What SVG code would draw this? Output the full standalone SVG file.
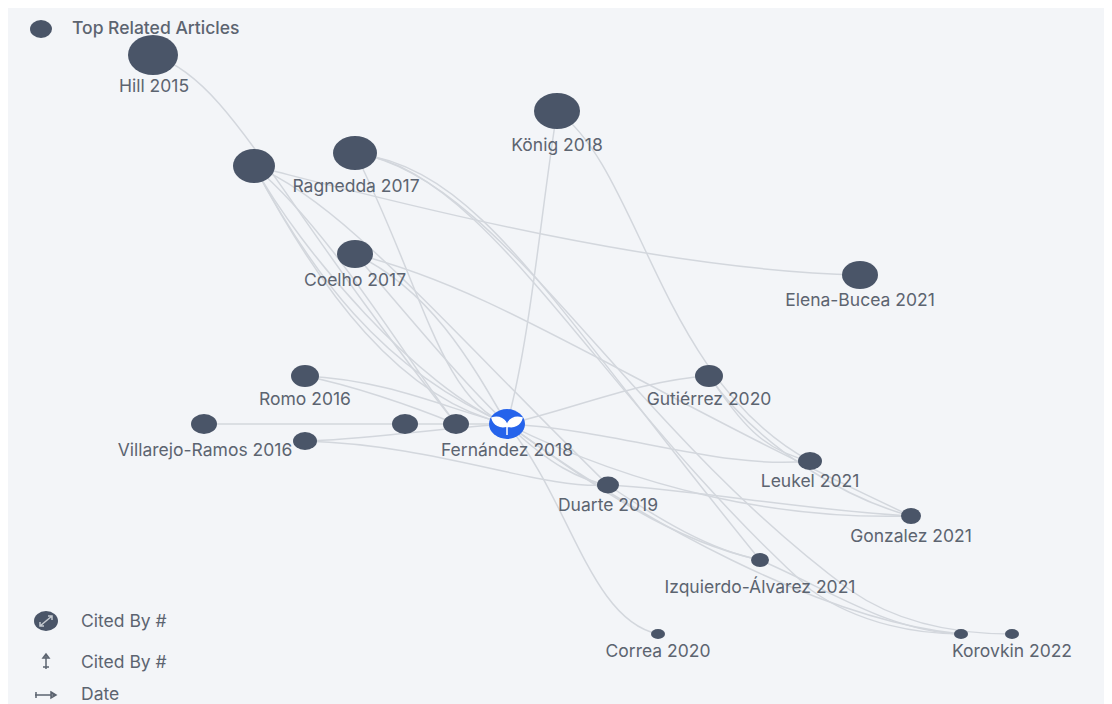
<svg xmlns="http://www.w3.org/2000/svg" width="1112" height="704" viewBox="0 0 1112 704">
<style>
.n{fill:#4a5568}
.l{font-family:"Inter","Liberation Sans",sans-serif;font-size:17.5px;fill:#5c6470;text-anchor:middle}
.k{font-family:"Inter","Liberation Sans",sans-serif;font-size:17.5px;fill:#5c6470}
#edges path{fill:none;stroke:#d3d7dd;stroke-width:1.5}
.w{fill:none;stroke:#fff;stroke-width:2}
.g{fill:none;stroke:#5c6470;stroke-width:1.5}
</style>
<rect width="1112" height="704" fill="#fff"/>
<rect x="8" y="8" width="1096" height="696" fill="#f3f5f8"/>
<g id="edges">
<path d="M153 55C230 80 270 190 456 424"/>
<path d="M254 166C310 270 380 370 507 424"/>
<path d="M254 166C320 290 400 400 507 424"/>
<path d="M254 166C300 250 420 390 507 424"/>
<path d="M254 166C340 200 440 320 608 485"/>
<path d="M254 166C350 190 640 270 860 275"/>
<path d="M254 166C330 230 400 350 456 424"/>
<path d="M355 153C420 280 440 400 507 424"/>
<path d="M355 153C480 170 540 290 760 560"/>
<path d="M355 153C490 170 600 400 811 590C860 625 920 634 961 634"/>
<path d="M355 153C500 175 620 420 850 590C900 625 960 634 1012 634"/>
<path d="M557 111C540 220 530 340 507 424"/>
<path d="M557 111C640 170 660 380 810 461"/>
<path d="M355 254C430 290 470 360 507 424"/>
<path d="M355 254C420 330 470 390 507 424"/>
<path d="M355 254C500 290 620 380 911 516"/>
<path d="M305 376C390 380 450 410 507 424"/>
<path d="M305 376C350 385 410 405 456 424"/>
<path d="M204 424H507"/>
<path d="M305 441C360 440 420 430 507 424"/>
<path d="M305 441C440 445 540 490 608 485"/>
<path d="M507 424C570 410 640 380 709 376"/>
<path d="M507 424C620 430 720 470 810 461"/>
<path d="M507 424C640 490 780 520 911 516"/>
<path d="M507 424C550 465 580 480 608 485"/>
<path d="M507 424C570 500 590 620 658 634"/>
<path d="M507 424C600 490 670 540 760 560"/>
<path d="M608 485C700 490 800 510 911 516"/>
<path d="M608 485C660 520 710 550 760 560"/>
<path d="M709 376C740 420 760 450 810 461"/>
<path d="M709 376C760 450 850 500 911 516"/>
<path d="M760 560C830 590 890 632 961 634"/>
<path d="M507 424C640 520 820 620 961 634"/>
</g>
<g id="legend-top"><ellipse class="n" cx="41" cy="29" rx="11" ry="9"/><text class="k" x="72" y="34" style="font-weight:500">Top Related Articles</text></g>
<g id="hill"><ellipse class="n" cx="153" cy="55" rx="25" ry="20"/><text class="l" x="154" y="92">Hill 2015</text></g>
<g id="node-a"><ellipse class="n" cx="254" cy="166" rx="21" ry="17"/></g>
<g id="ragnedda"><ellipse class="n" cx="355" cy="153" rx="22" ry="17"/><text class="l" x="356" y="192">Ragnedda 2017</text></g>
<g id="konig"><ellipse class="n" cx="557" cy="111" rx="23" ry="18"/><text class="l" x="557" y="151">König 2018</text></g>
<g id="coelho"><ellipse class="n" cx="355" cy="254" rx="18" ry="14"/><text class="l" x="355" y="286">Coelho 2017</text></g>
<g id="elena"><ellipse class="n" cx="860" cy="275" rx="18" ry="14"/><text class="l" x="860" y="306">Elena-Bucea 2021</text></g>
<g id="romo"><ellipse class="n" cx="305" cy="376" rx="14" ry="11"/><text class="l" x="305" y="405">Romo 2016</text></g>
<g id="villarejo"><ellipse class="n" cx="204" cy="424" rx="13" ry="10"/><text class="l" x="205" y="456">Villarejo-Ramos 2016</text></g>
<g id="node-b"><ellipse class="n" cx="305" cy="441" rx="12" ry="9"/></g>
<g id="node-c"><ellipse class="n" cx="405" cy="424" rx="13" ry="10"/></g>
<g id="node-d"><ellipse class="n" cx="456" cy="424" rx="13" ry="10"/></g>
<g id="fernandez"><ellipse cx="507" cy="424" rx="18" ry="15" fill="#2563eb"/><path d="M507 435V426C506 419 499 416 492 418C494 425 500 428 507 426C514 428 520 425 522 418C515 416 508 419 507 426" fill="#fff" stroke="#fff" stroke-width="1.5"/><text class="l" x="507" y="456">Fernández 2018</text></g>
<g id="gutierrez"><ellipse class="n" cx="709" cy="376" rx="14" ry="11"/><text class="l" x="709" y="405">Gutiérrez 2020</text></g>
<g id="leukel"><ellipse class="n" cx="810" cy="461" rx="12" ry="9"/><text class="l" x="810" y="487">Leukel 2021</text></g>
<g id="gonzalez"><ellipse class="n" cx="911" cy="516" rx="10" ry="8"/><text class="l" x="911" y="542">Gonzalez 2021</text></g>
<g id="duarte"><ellipse class="n" cx="608" cy="485" rx="11" ry="8.500"/><text class="l" x="608" y="511">Duarte 2019</text></g>
<g id="izquierdo"><ellipse class="n" cx="760" cy="560" rx="9" ry="7"/><text class="l" x="760" y="593">Izquierdo-Álvarez 2021</text></g>
<g id="correa"><ellipse class="n" cx="658" cy="634" rx="7" ry="5"/><text class="l" x="658" y="657">Correa 2020</text></g>
<g id="node-e"><ellipse class="n" cx="961" cy="634" rx="7" ry="5"/></g>
<g id="korovkin"><ellipse class="n" cx="1012" cy="634" rx="7" ry="5"/><text class="l" x="1012" y="657">Korovkin 2022</text></g>
<g id="legend-size"><ellipse class="n" cx="46" cy="621" rx="12" ry="10"/><path d="M40 626L52 616M40 622V626H44M48 616H52V620" fill="none" stroke="#c5cad1" stroke-width="1.5"/><text class="k" x="81" y="627">Cited By #</text></g>
<g id="legend-y"><path class="g" d="M46 655V669M43 667H49M43 658L46 654L49 658Z"/><text class="k" x="81" y="668">Cited By #</text></g>
<g id="legend-x"><path class="g" d="M35 695H56M36 692V698M51 692L56 695L51 698Z"/><text class="k" x="81" y="700">Date</text></g>
</svg>
